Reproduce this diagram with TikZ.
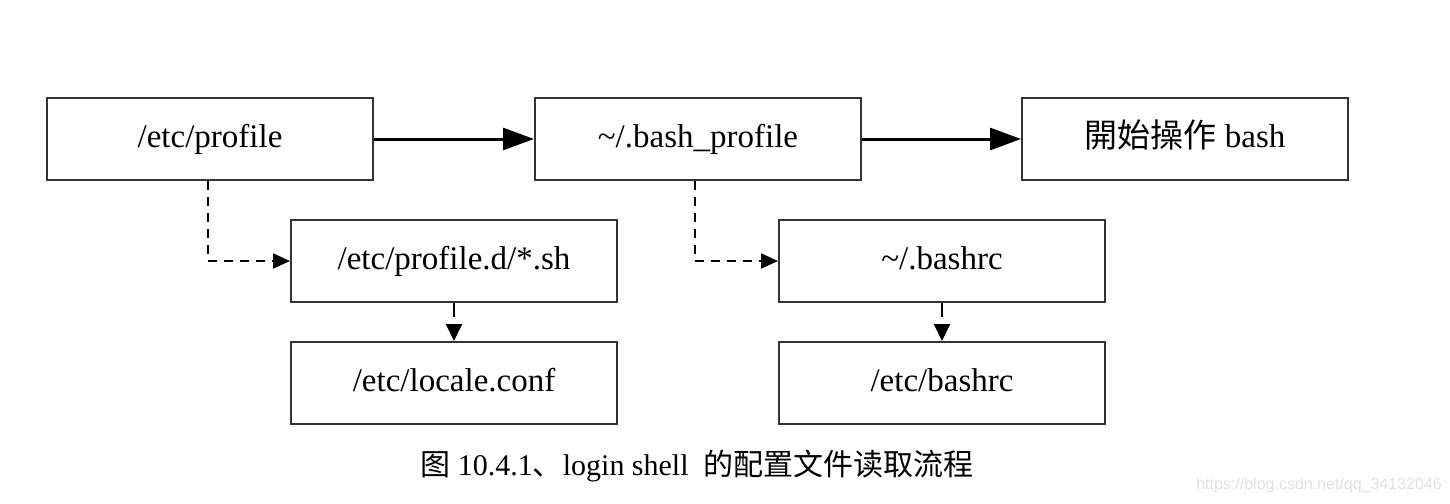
\documentclass[tikz,border=0pt]{standalone}
\usepackage{fontspec}
\setmainfont{Liberation Serif}
\newfontfamily\cjktc{Noto Sans CJK TC}
\newfontfamily\cjksc{Noto Sans CJK SC}
\newfontfamily\wmfont{Liberation Sans}
\usetikzlibrary{arrows.meta}
\tikzset{
  box/.style={draw=black!80, line width=2pt, minimum width=326pt, minimum height=82pt, inner sep=0pt, font=\fontsize{33}{36}\selectfont, text height=23pt, text depth=7pt, anchor=north west},
  mainarrow/.style={line width=3pt, -{Triangle[length=31pt,width=22pt]}},
  dasharrow/.style={line width=2pt, dash pattern=on 9pt off 7pt, -{Triangle[length=17pt,width=15pt]}},
  downarrow/.style={line width=2pt, dash pattern=on 14pt off 7pt, -{Triangle[length=17pt,width=16pt]}},
}
\begin{document}
\begin{tikzpicture}[x=1pt,y=-1pt]
\useasboundingbox (0,0) rectangle (1450,503);
\node[box] (prof) at (46,97) {/etc/profile};
\node[box] (bprof) at (534,97) {\char`\~/.bash\_profile};
\node[box] (start) at (1021,97) {{\cjktc 開始操作} bash};
\node[box] (profd) at (290,219) {/etc/profile.d/*.sh};
\node[box] (locale) at (290,341) {/etc/locale.conf};
\node[box] (bashrc) at (778,219) {\char`\~/.bashrc};
\node[box] (etcbashrc) at (778,341) {/etc/bashrc};
\draw[mainarrow] (prof.east) -- (bprof.west);
\draw[mainarrow] (bprof.east) -- (start.west);
\coordinate (c1) at (208,0);
\coordinate (c2) at (695,0);
\draw[dasharrow] (prof.south -| c1) |- (profd.west);
\draw[dasharrow] (bprof.south -| c2) |- (bashrc.west);
\draw[downarrow] (profd.south) -- (locale.north);
\draw[downarrow] (bashrc.south) -- (etcbashrc.north);
\node[font=\fontsize{30}{33}\selectfont, anchor=center] (cap) at (697,466) {{\cjksc 图} 10.4.1{\cjksc 、}login shell\ \ {\cjksc 的配置文件读取流程}};
\node[font=\wmfont\fontsize{16}{18}\selectfont, text=black!12, anchor=east, inner sep=0pt] (wm) at (1442,485) {https://blog.csdn.net/qq\_34132046};
\end{tikzpicture}
\end{document}
